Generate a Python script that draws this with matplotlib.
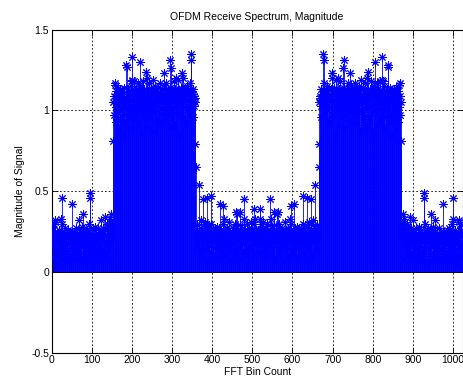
import numpy as np
import matplotlib
matplotlib.use("Agg")
import matplotlib.pyplot as plt

# Magnitude, bins 0..152 (low region)
low_a = [0.21, 0.18, 0.24, 0.09, 0.26, 0.15, 0.30, 0.22, 0.32, 0.31,
         0.12, 0.20, 0.25, 0.05, 0.23, 0.17, 0.22, 0.10, 0.26, 0.19,
         0.14, 0.24, 0.20, 0.33, 0.08, 0.46, 0.30, 0.18, 0.22, 0.11,
         0.25, 0.16, 0.21, 0.27, 0.07, 0.22, 0.19, 0.24, 0.13, 0.20,
         0.26, 0.10, 0.23, 0.18, 0.21, 0.06, 0.25, 0.20, 0.15, 0.24,
         0.42, 0.21, 0.12, 0.22, 0.19, 0.25, 0.09, 0.20, 0.23, 0.14,
         0.27, 0.17, 0.21, 0.08, 0.24, 0.20, 0.13, 0.22, 0.32, 0.18,
         0.20, 0.11, 0.25, 0.23, 0.16, 0.28, 0.07, 0.21, 0.26, 0.36,
         0.19, 0.22, 0.10, 0.24, 0.21, 0.15, 0.27, 0.21, 0.06, 0.23,
         0.18, 0.25, 0.20, 0.30, 0.14, 0.49, 0.46, 0.20, 0.22, 0.11,
         0.24, 0.19, 0.21, 0.08, 0.26, 0.20, 0.16, 0.23, 0.28, 0.13,
         0.21, 0.24, 0.10, 0.22, 0.18, 0.27, 0.21, 0.07, 0.23, 0.20,
         0.15, 0.25, 0.20, 0.24, 0.32, 0.12, 0.22, 0.19, 0.27, 0.09,
         0.21, 0.24, 0.34, 0.17, 0.23, 0.21, 0.11, 0.27, 0.22, 0.30,
         0.14, 0.24, 0.20, 0.29, 0.18, 0.23, 0.33, 0.08, 0.26, 0.36,
         0.21, 0.30, 0.24]

# bins 153..358 (occupied sub-carriers)
band = [0.81, 1.05, 0.97, 1.09, 1.17, 1.16, 1.02,
        1.12, 0.93, 1.08, 1.10, 0.99, 1.14, 1.04, 0.88, 1.11, 1.06,
        1.00, 1.13, 0.95, 1.09, 1.07, 0.84, 1.12, 1.03, 1.10, 0.98,
        1.08, 1.14, 0.92, 1.06, 1.11, 1.01, 1.28, 1.27, 1.05, 1.13,
        0.96, 1.09, 1.12, 1.02, 0.89, 1.10, 1.07, 1.15, 0.99, 1.18,
        1.33, 1.19, 1.04, 1.11, 0.94, 1.08, 1.18, 1.01, 1.12, 1.06,
        0.97, 1.13, 1.09, 1.03, 1.17, 0.91, 1.10, 1.05, 1.14, 1.30,
        1.15, 1.00, 1.08, 1.12, 0.86, 1.11, 1.04, 1.09, 1.18, 0.98,
        1.07, 1.13, 1.02, 1.10, 0.95, 1.06, 1.24, 1.20, 1.11, 1.03,
        0.90, 1.12, 1.08, 1.17, 1.01, 1.09, 0.96, 1.14, 1.05, 1.10,
        0.99, 1.07, 1.19, 1.04, 1.13, 0.87, 1.11, 1.06, 1.15, 1.00,
        1.09, 1.12, 0.93, 1.08, 1.03, 1.14, 1.10, 0.97, 1.06, 1.17,
        1.11, 1.02, 1.12, 0.92, 1.09, 1.05, 1.13, 0.99, 1.08, 1.16,
        1.23, 1.07, 1.01, 1.12, 0.94, 1.10, 1.17, 1.04, 1.09, 1.13,
        0.98, 1.06, 1.11, 1.03, 0.89, 1.14, 1.31, 1.26, 1.08, 1.00,
        1.12, 1.05, 0.96, 1.10, 1.07, 1.18, 1.02, 1.13, 0.91, 1.09,
        1.20, 1.04, 1.11, 0.99, 1.08, 1.19, 1.06, 1.12, 0.85, 1.10,
        1.03, 1.14, 1.07, 0.97, 1.11, 1.23, 1.20, 1.05, 1.09, 1.13,
        0.95, 1.08, 1.14, 1.02, 1.10, 0.93, 1.12, 1.06, 1.15, 1.00,
        1.13, 1.07, 0.98, 1.11, 1.04, 1.17, 1.31, 1.09, 1.35, 1.12,
        1.06, 1.10, 0.96, 1.13, 1.03, 1.09, 1.08, 1.05, 0.79]

# bins 359..512 (low region up to Nyquist bin)
low_b = [0.65, 0.22, 0.26, 0.15, 0.29, 0.22, 0.19, 0.25, 0.54, 0.20, 0.24,
         0.13, 0.27, 0.21, 0.32, 0.18, 0.25, 0.09, 0.23, 0.45, 0.30,
         0.21, 0.24, 0.14, 0.31, 0.22, 0.19, 0.26, 0.07, 0.46, 0.28,
         0.20, 0.23, 0.16, 0.29, 0.25, 0.11, 0.22, 0.30, 0.47, 0.20,
         0.24, 0.18, 0.27, 0.21, 0.10, 0.25, 0.19, 0.23, 0.15, 0.26,
         0.22, 0.19, 0.28, 0.08, 0.24, 0.20, 0.25, 0.17, 0.27, 0.21,
         0.42, 0.23, 0.14, 0.26, 0.19, 0.24, 0.12, 0.30, 0.41, 0.33,
         0.19, 0.22, 0.25, 0.09, 0.23, 0.20, 0.27, 0.16, 0.24, 0.20,
         0.26, 0.13, 0.22, 0.31, 0.19, 0.24, 0.07, 0.23, 0.18, 0.25,
         0.21, 0.27, 0.14, 0.24, 0.20, 0.26, 0.11, 0.22, 0.30, 0.20,
         0.37, 0.19, 0.24, 0.36, 0.15, 0.26, 0.21, 0.08, 0.23, 0.29,
         0.37, 0.21, 0.25, 0.17, 0.27, 0.22, 0.12, 0.24, 0.33, 0.20,
         0.45, 0.26, 0.19, 0.23, 0.10, 0.25, 0.21, 0.30, 0.16, 0.24,
         0.21, 0.27, 0.14, 0.22, 0.25, 0.09, 0.23, 0.31, 0.20, 0.26,
         0.21, 0.17, 0.24, 0.30, 0.12, 0.39, 0.33, 0.23, 0.20, 0.26,
         0.18, 0.25, 0.22]

N_FFT = 1024
x_ticks = [0, 100, 200, 300, 400, 500, 600, 700, 800, 900, 1000]
y_ticks = [-0.5, 0, 0.5, 1, 1.5]

# spectrum of a real signal: |X[k]| = |X[N-k]|
half = np.array(low_a + band + low_b)
mag = np.concatenate([half, half[N_FFT // 2 - 1:0:-1]])
bins = np.arange(N_FFT)

plt.rcParams['font.family'] = ['Liberation Sans', 'DejaVu Sans']
fig = plt.figure(figsize=(4.64, 3.89), dpi=100)
ax = fig.add_axes([51.7 / 464, 36.3 / 389, (462.6 - 51.7) / 464, (352.7 - 29.7) / 389])

ax.vlines(bins, 0, mag, color=(0, 0, 1), lw=0.6, zorder=2)
ax.plot(bins, mag, linestyle='none', marker=(8, 2, 0), ms=6, mew=0.7,
        color=(0, 0, 1), zorder=3)
ax.axhline(0, color='k', lw=0.6, zorder=2.5)

ax.set_xlim(0, N_FFT)
ax.set_ylim(-0.5, 1.5)
ax.set_xticks(x_ticks)
ax.set_xticklabels([str(t) for t in x_ticks])
ax.set_yticks(y_ticks)
ax.set_yticklabels(['-0.5', '0', '0.5', '1', '1.5'])
ax.grid(True, color='k', linestyle=(0, (2, 2.5)), lw=0.6)
ax.set_axisbelow(True)
ax.tick_params(direction='in', top=True, right=True, length=4, width=0.6,
               labelsize=7.5, pad=2)
for s in ax.spines.values():
    s.set_linewidth(0.8)

ax.set_title('OFDM Receive Spectrum, Magnitude', fontsize=7.5, pad=7)
ax.set_xlabel('FFT Bin Count', fontsize=7.5, labelpad=1)
ax.set_ylabel('Magnitude of Signal', fontsize=7.5, labelpad=4)

fig.savefig('out.png', dpi=100)
